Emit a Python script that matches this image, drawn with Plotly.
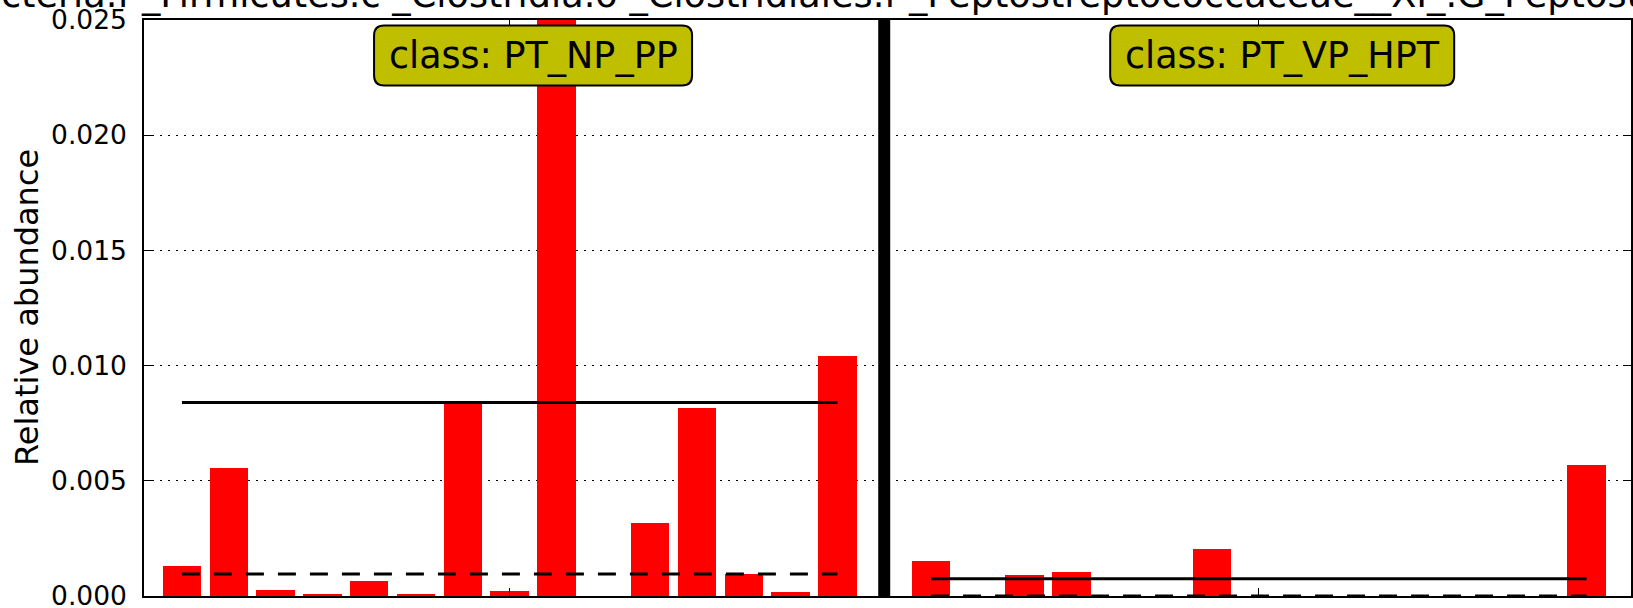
import numpy as np
import plotly.graph_objects as go

# ---------------- data ----------------
title_text = ("k _Bacteria.f _Firmicutes.c _Clostridia.o _Clostridiales.f _"
              "Peptostreptococcaceae__XI_.G_Peptostreptococcus")
class_names = ["PT_NP_PP", "PT_VP_HPT"]
values_np_pp = [0.00130, 0.00556, 0.00026, 0.00009, 0.00067, 0.00009, 0.00835,
                0.00022, 0.08650, 0.0, 0.00315, 0.00815, 0.00096, 0.00018, 0.01042]
values_vp_hpt = [0.00150, 0.0, 0.00092, 0.00106, 0.0, 0.0, 0.00206, 0.0,
                 0.0, 0.0, 0.0, 0.0, 0.0, 0.0, 0.00569]
y_ticks = [0.0, 0.005, 0.010, 0.015, 0.020, 0.025]
y_title = "Relative abundance"

# ---------------- layout constants ----------------
W, H = 1633, 608
ML, MR, MT, MB = 144, 2, 20, 12
FONT = "DejaVu Sans"

groups = [values_np_pp, values_vp_hpt]
positions = []
start = 0
for vals in groups:
    positions.append(list(range(start, start + len(vals))))
    start += len(vals) + 1
separators = [positions[0][-1] + 1]

fig = go.Figure()
for vals, pos in zip(groups, positions):
    fig.add_trace(go.Bar(x=pos, y=vals, width=0.82, marker=dict(color="#FF0000", line=dict(width=0)),
                         showlegend=False, hoverinfo="skip"))
for vals, pos in zip(groups, positions):
    m = float(np.mean(vals))
    md = float(np.median(vals))
    fig.add_trace(go.Scatter(x=[pos[0], pos[-1]], y=[m, m], mode="lines",
                             line=dict(color="black", width=3), showlegend=False, hoverinfo="skip",
                             cliponaxis=False))
    fig.add_trace(go.Scatter(x=[pos[0], pos[-1]], y=[md, md], mode="lines",
                             line=dict(color="black", width=3, dash="18px,14px"), showlegend=False,
                             hoverinfo="skip", cliponaxis=False))

shapes = []
for s in separators:
    shapes.append(dict(type="line", xref="x", yref="paper", x0=s, x1=s, y0=0, y1=1,
                       line=dict(color="black", width=12), layer="above"))

box_w = [318, 344]
box_h = 60
r = 10
box_yc = (H - MB - 55.4) / (H - MT - MB)
annotations = []
for name, pos, bw in zip(class_names, positions, box_w):
    xc = (pos[0] + pos[-1] + 1) / 2
    hw, hh = bw / 2, box_h / 2
    path = (f"M {-hw + r},{hh} L {hw - r},{hh} Q {hw},{hh} {hw},{hh - r} "
            f"L {hw},{-hh + r} Q {hw},{-hh} {hw - r},{-hh} L {-hw + r},{-hh} "
            f"Q {-hw},{-hh} {-hw},{-hh + r} L {-hw},{hh - r} Q {-hw},{hh} {-hw + r},{hh} Z")
    shapes.append(dict(type="path", xref="x", yref="paper", xsizemode="pixel", ysizemode="pixel",
                       xanchor=xc, yanchor=box_yc, path=path, fillcolor="#BFBF00",
                       line=dict(color="black", width=2), layer="above"))
    annotations.append(dict(text="class: " + name, x=xc, xref="x", y=box_yc, yref="paper",
                            xanchor="center", yanchor="middle", showarrow=False,
                            font=dict(family=FONT, size=36.5, color="black")))

plot_h = H - MT - MB
plot_w = W - ML - MR
# y axis title
annotations.append(dict(text=y_title, textangle=-90, x=(27 - ML) / plot_w, xref="paper",
                        y=0.5, yref="paper", xanchor="center", yanchor="middle", showarrow=False,
                        font=dict(family=FONT, size=32, color="black")))
# clipped title
annotations.append(dict(text=title_text, x=(-100 - ML) / plot_w, xref="paper",
                        y=(H - MB + 6) / plot_h, yref="paper", xanchor="left", yanchor="middle",
                        showarrow=False, font=dict(family=FONT, size=36.7, color="black")))

fig.update_layout(
    width=W, height=H,
    margin=dict(l=ML, r=MR, t=MT, b=MB, pad=0, autoexpand=False),
    paper_bgcolor="white", plot_bgcolor="white",
    bargap=0, barmode="overlay",
    shapes=shapes, annotations=annotations,
    font=dict(family=FONT, color="black"),
    xaxis=dict(range=[-0.81, 30.95], tickvals=[(p[0] + p[-1]) / 2 for p in positions],
               showticklabels=False, ticks="inside", ticklen=8, tickwidth=1, tickcolor="black",
               showline=True, linecolor="black", linewidth=1.5, mirror="ticks",
               showgrid=False, zeroline=False, automargin=False),
    yaxis=dict(range=[0, 0.025], tickvals=y_ticks, tickformat=".3f",
               ticks="inside", ticklen=8, tickwidth=1, tickcolor="black",
               showline=True, linecolor="black", linewidth=1.5, mirror="ticks",
               showgrid=True, gridcolor="black", gridwidth=1, griddash="2px,6px",
               zeroline=False, ticklabelstandoff=10, ticklabeloverflow="allow", automargin=False,
               tickfont=dict(family=FONT, size=26.5, color="black")),
)

fig.write_html("out.html", config={"displayModeBar": False},
               post_script="document.body.style.margin='0px';document.body.style.overflow='hidden';")
